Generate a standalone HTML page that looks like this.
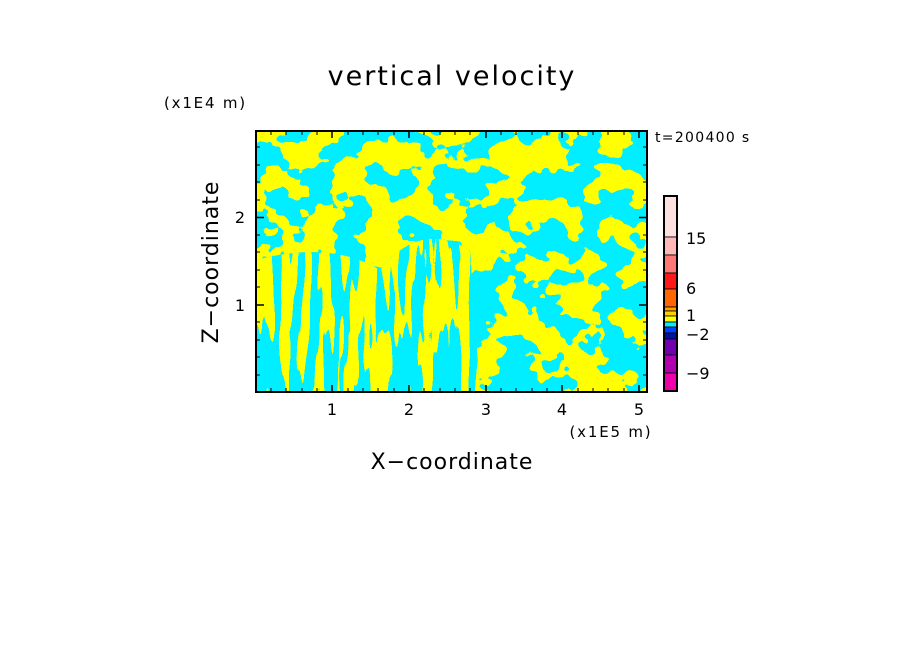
<!DOCTYPE html>
<html><head><style>
body{margin:0;background:#fff;}
svg text{font-family:"DejaVu Sans","Liberation Sans",sans-serif;}
</style></head><body>
<svg width="904" height="654" viewBox="0 0 904 654" xmlns="http://www.w3.org/2000/svg">
<defs>
<filter id="n1" x="0" y="0" width="100%" height="100%" filterUnits="userSpaceOnUse">
<feTurbulence type="fractalNoise" baseFrequency="0.03 0.035" numOctaves="3" seed="7"/>
<feColorMatrix type="matrix" values="0 0 0 0 1  0 0 0 0 1  0 0 0 0 0  1.2 0 0 0 -0.1"/>
<feComponentTransfer><feFuncA type="discrete" tableValues="0 1"/></feComponentTransfer>
</filter>
<filter id="n2" x="0" y="0" width="100%" height="100%" filterUnits="userSpaceOnUse">
<feTurbulence type="fractalNoise" baseFrequency="0.1 0.012" numOctaves="2" seed="3"/>
<feColorMatrix type="matrix" values="0 0 0 0 1  0 0 0 0 1  0 0 0 0 0  1.2 0 0 0 -0.1"/>
<feComponentTransfer><feFuncA type="discrete" tableValues="0 1"/></feComponentTransfer>
</filter>
<clipPath id="c"><rect x="256" y="131" width="391" height="261"/></clipPath>
<clipPath id="c2"><path d="M256 260 Q330 240 380 270 Q420 220 470 250 L480 392 L256 392Z"/></clipPath>
</defs>
<text x="452" y="85" font-size="27" text-anchor="middle" letter-spacing="2">vertical velocity</text>
<text x="164" y="108" font-size="15" letter-spacing="1.8">(x1E4 m)</text>
<text x="655" y="142" font-size="14" letter-spacing="1.3">t=200400 s</text>
<g clip-path="url(#c)">
<rect x="256" y="131" width="391" height="261" fill="#00eeff"/>
<rect x="256" y="131" width="391" height="261" filter="url(#n1)"/>
<g clip-path="url(#c2)"><rect x="256" y="200" width="240" height="192" fill="#00eeff"/><rect x="256" y="200" width="240" height="192" filter="url(#n2)"/></g>
</g>
<rect x="256" y="131" width="391" height="261" fill="none" stroke="#000" stroke-width="2"/>
<g stroke="#000" stroke-width="1.5">
<path d="M332 392v-7M409 392v-7M486 392v-7M562 392v-7M639 392v-7M332 131v7M409 131v7M486 131v7M562 131v7M639 131v7"/>
<path d="M256 305h8M256 217.5h8M647 305h-8M647 217.5h-8"/>
</g>
<g stroke="#000" stroke-width="1">
<path d="M271 392v-4M286 392v-4M302 392v-4M317 392v-4M348 392v-4M363 392v-4M378 392v-4M394 392v-4M424 392v-4M440 392v-4M455 392v-4M470 392v-4M501 392v-4M516 392v-4M532 392v-4M547 392v-4M578 392v-4M593 392v-4M608 392v-4M624 392v-4"/>
<path d="M271 131v4M286 131v4M302 131v4M317 131v4M348 131v4M363 131v4M378 131v4M394 131v4M424 131v4M440 131v4M455 131v4M470 131v4M501 131v4M516 131v4M532 131v4M547 131v4M578 131v4M593 131v4M608 131v4M624 131v4"/>
<path d="M256 375h4M256 357h4M256 340h4M256 322h4M256 287h4M256 270h4M256 252h4M256 235h4M256 200h4M256 182h4M256 165h4M256 147h4"/>
<path d="M647 375h-4M647 357h-4M647 340h-4M647 322h-4M647 287h-4M647 270h-4M647 252h-4M647 235h-4M647 200h-4M647 182h-4M647 165h-4M647 147h-4"/>
</g>
<g font-size="16" text-anchor="middle">
<text x="332" y="415">1</text><text x="409" y="415">2</text><text x="486" y="415">3</text><text x="562" y="415">4</text><text x="639" y="415">5</text>
<text x="240" y="311">1</text><text x="240" y="223">2</text>
</g>
<text x="611" y="437" font-size="15" text-anchor="middle" letter-spacing="1.8">(x1E5 m)</text>
<text x="452" y="469" font-size="22" text-anchor="middle" letter-spacing="1">X−coordinate</text>
<text x="0" y="0" font-size="22" text-anchor="middle" letter-spacing="1" transform="translate(218,262) rotate(-90)">Z−coordinate</text>
<g stroke="#000" stroke-width="0.8">
<rect x="664" y="196" width="13" height="41" fill="#ffe0e0"/>
<rect x="664" y="237" width="13" height="18" fill="#ffb8b8"/>
<rect x="664" y="255" width="13" height="18" fill="#ff7878"/>
<rect x="664" y="273" width="13" height="16" fill="#ff1818"/>
<rect x="664" y="289" width="13" height="18" fill="#ff6600"/>
<rect x="664" y="307" width="13" height="4" fill="#ffa000"/>
<rect x="664" y="311" width="13" height="5" fill="#ffd000"/>
<rect x="664" y="316" width="13" height="6" fill="#ffff00"/>
<rect x="664" y="322" width="13" height="5" fill="#00eeff"/>
<rect x="664" y="327" width="13" height="6" fill="#0040ff"/>
<rect x="664" y="333" width="13" height="6" fill="#0010a0"/>
<rect x="664" y="339" width="13" height="16" fill="#7000b0"/>
<rect x="664" y="355" width="13" height="18" fill="#b000b0"/>
<rect x="664" y="373" width="13" height="18" fill="#ee00aa"/>
</g>
<rect x="664" y="196" width="13" height="195" fill="none" stroke="#000" stroke-width="2"/>
<g font-size="16">
<text x="686" y="244">15</text><text x="686" y="294">6</text><text x="686" y="321">1</text><text x="686" y="340">−2</text><text x="686" y="379">−9</text>
</g>
</svg>
</body></html>
